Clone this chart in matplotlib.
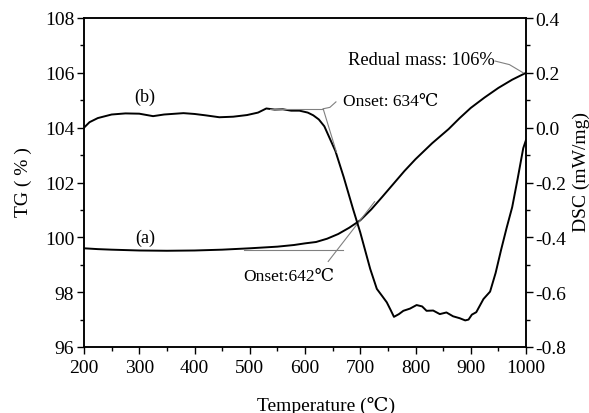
import matplotlib
matplotlib.use("Agg")
import matplotlib.pyplot as plt
from matplotlib.ticker import MultipleLocator, FormatStrFormatter

# curve (a): TG, left axis
tg_temp = [200, 225, 250, 300, 350, 400, 450, 500, 550, 580, 600, 620, 640,
           660, 680, 700, 720, 740, 760, 780, 800, 830, 860, 880, 900, 925,
           950, 975, 1000]
tg_mass = [99.60, 99.57, 99.55, 99.52, 99.51, 99.52, 99.55, 99.60, 99.66,
           99.72, 99.78, 99.83, 99.95, 100.12, 100.35, 100.62, 101.02, 101.48,
           101.95, 102.42, 102.85, 103.43, 103.95, 104.35, 104.72, 105.10,
           105.45, 105.75, 106.0]

# curve (b): DSC, right axis
dsc_temp = [200, 210, 225, 250, 275, 300, 325, 345, 380, 400, 420, 445, 470,
            495, 515, 530, 545, 560, 575, 590, 605, 615, 625, 635, 645, 655,
            670, 687, 700, 718, 730, 740, 748, 755, 761, 770, 778, 790, 802,
            812, 820, 832, 844, 856, 868, 880, 890, 896, 902, 910, 923, 935,
            945, 955, 965, 975, 985, 995, 1000]
dsc_val = [0.000, 0.020, 0.035, 0.048, 0.052, 0.051, 0.042, 0.048, 0.053,
           0.050, 0.045, 0.038, 0.040, 0.046, 0.055, 0.070, 0.066, 0.067,
           0.062, 0.062, 0.055, 0.045, 0.030, 0.005, -0.040, -0.085, -0.180,
           -0.297, -0.382, -0.515, -0.588, -0.615, -0.637, -0.665, -0.690,
           -0.680, -0.668, -0.660, -0.647, -0.652, -0.668, -0.667, -0.680,
           -0.674, -0.688, -0.695, -0.703, -0.700, -0.682, -0.673, -0.625,
           -0.598, -0.530, -0.445, -0.365, -0.290, -0.185, -0.075, -0.045]

# onset construction lines
tg_base_t = [490, 669]
tg_base_v = [99.55, 99.55]
tg_tan_t = [642, 726]
tg_tan_v = [99.12, 101.30]
dsc_base_t = [537, 633]
dsc_base_v = [0.069, 0.069]
dsc_tan_t = [633, 657]
dsc_tan_v = [0.068, -0.090]

plt.rcParams["font.family"] = ["Liberation Serif", "DejaVu Serif"]
plt.rcParams["axes.unicode_minus"] = False

fig = plt.figure(figsize=(5.89, 4.14), dpi=100)
ax = fig.add_axes([84 / 589, 66 / 414, 442 / 589, 329 / 414])
ax2 = ax.twinx()

ax.plot(tg_temp, tg_mass, color="black", lw=1.4)
ax.plot(tg_base_t, tg_base_v, color="#808080", lw=0.8)
ax.plot(tg_tan_t, tg_tan_v, color="#808080", lw=0.8)
ax2.plot(dsc_temp, dsc_val, color="black", lw=1.4)
ax2.plot(dsc_base_t, dsc_base_v, color="#808080", lw=0.8)
ax2.plot(dsc_tan_t, dsc_tan_v, color="#808080", lw=0.8)

ax.set_xlim(200, 1000)
ax.set_ylim(96, 108)
ax2.set_ylim(-0.8, 0.4)
ax.xaxis.set_major_locator(MultipleLocator(100))
ax.xaxis.set_minor_locator(MultipleLocator(50))
ax.yaxis.set_major_locator(MultipleLocator(2))
ax.yaxis.set_minor_locator(MultipleLocator(1))
ax2.yaxis.set_major_locator(MultipleLocator(0.2))
ax2.yaxis.set_minor_locator(MultipleLocator(0.1))
ax2.yaxis.set_major_formatter(FormatStrFormatter("%.1f"))

for a in (ax, ax2):
    a.tick_params(which="major", direction="out", length=5, width=1, labelsize=14, pad=2)
    a.tick_params(which="minor", direction="out", length=3, width=1)
    for s in a.spines.values():
        s.set_linewidth(1.1)
ax.tick_params(axis="x", which="major", pad=4)
ax.tick_params(top=False, which="both")

ax.set_xlabel("Temperature (℃)", fontsize=14)
ax.xaxis.set_label_coords(0.548, -0.149)
ax.set_ylabel("TG ( % )", fontsize=14)
ax.yaxis.set_label_coords(-0.117, 0.505)
ax2.set_ylabel("DSC (mW/mg)", fontsize=14)
ax2.yaxis.set_label_coords(1.106, 0.536)

ax.text(310, 105.15, "(b)", fontsize=13, ha="center", va="center")
ax.text(310, 100.0, "(a)", fontsize=13, ha="center", va="center")
ax.text(669, 104.98, "Onset: 634℃", fontsize=12.5, ha="left", va="center")
ax2.plot([633, 645, 656], [0.069, 0.074, 0.094], color="#808080", lw=0.8)
ax.text(488, 98.59, "Onset:642℃", fontsize=12.5, ha="left", va="center")
ax.text(678, 106.5, "Redual mass: 106%", fontsize=13.3, ha="left", va="center")
ax.plot([944, 970, 995], [106.43, 106.3, 106.0], color="#808080", lw=0.8)

fig.savefig("out.png", dpi=100)
